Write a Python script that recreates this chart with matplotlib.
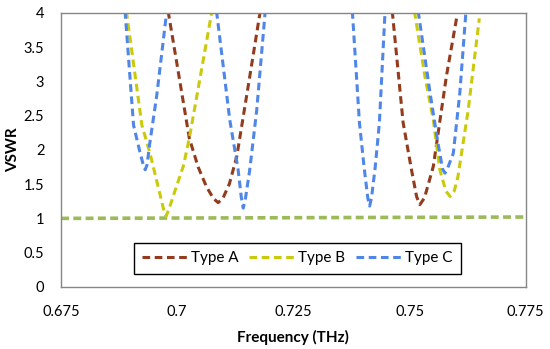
import matplotlib
matplotlib.use("Agg")
import matplotlib.pyplot as plt

plt.rcParams['font.family'] = ['Lato', 'DejaVu Sans']

## donnees (VSWR > 4 : hors cadre)
freq_a = [0.6960, 0.6981, 0.7000, 0.7026, 0.7045, 0.7063, 0.7078, 0.7088, 0.7098, 0.7112, 0.7128, 0.7156, 0.7178, 0.7200,
          0.7440, 0.7463, 0.7486, 0.7504, 0.7515, 0.7522, 0.7532, 0.7551, 0.7579, 0.7601]
vswr_a = [4.80, 4.00, 3.23, 2.17, 1.75, 1.46, 1.29, 1.23, 1.29, 1.50, 1.90, 3.07, 4.00, 4.90,
          5.00, 4.00, 2.40, 1.71, 1.32, 1.20, 1.30, 1.76, 3.07, 3.92]

freq_b = [0.6880, 0.6891, 0.6924, 0.6941, 0.6959, 0.6970, 0.6976, 0.6983, 0.6995, 0.7013, 0.7026, 0.7074, 0.7090,
          0.7500, 0.7511, 0.7533, 0.7551, 0.7565, 0.7578, 0.7587, 0.7596, 0.7604, 0.7626, 0.7650]
vswr_b = [4.55, 4.00, 2.36, 1.96, 1.46, 1.15, 1.03, 1.15, 1.40, 1.76, 2.17, 4.00, 4.60,
          4.50, 4.00, 3.07, 2.44, 1.71, 1.40, 1.32, 1.40, 1.61, 2.58, 3.92]

freq_c = [0.6880, 0.6888, 0.6906, 0.6920, 0.6927, 0.6931, 0.6935, 0.6941, 0.6956, 0.6977, 0.6990,
          0.7075, 0.7085, 0.7113, 0.7131, 0.7138, 0.7142, 0.7147, 0.7156, 0.7171, 0.7189, 0.7200,
          0.7370, 0.7377, 0.7392, 0.7402, 0.7410, 0.7414, 0.7418, 0.7426, 0.7435, 0.7447, 0.7460,
          0.7505, 0.7519, 0.7544, 0.7561, 0.7571, 0.7576, 0.7581, 0.7594, 0.7608, 0.7621, 0.7630]
vswr_c = [4.40, 4.00, 2.36, 1.96, 1.78, 1.71, 1.78, 2.10, 2.80, 4.00, 4.60,
          4.40, 4.00, 2.44, 1.71, 1.30, 1.15, 1.30, 1.71, 2.58, 4.00, 4.60,
          4.40, 4.00, 2.40, 1.75, 1.30, 1.18, 1.30, 1.75, 2.40, 4.00, 4.60,
          4.60, 4.00, 2.83, 2.10, 1.72, 1.66, 1.72, 1.95, 2.83, 4.00, 4.60]

freq_ref = [0.675, 0.775]
vswr_ref = [1.0, 1.02]

xticks = [0.675, 0.7, 0.725, 0.75, 0.775]
xlabels = ['0.675', '0.7', '0.725', '0.75', '0.775']
yticks = [0, 0.5, 1, 1.5, 2, 2.5, 3, 3.5, 4]
ylabels = ['0', '0.5', '1', '1.5', '2', '2.5', '3', '3.5', '4']

fig = plt.figure(figsize=(5.5, 3.49), dpi=100)
ax = fig.add_axes([0.111, 0.178, 0.845, 0.785])

ax.plot(freq_ref, vswr_ref, color='#9BBB59', lw=2.6, dashes=(2.2, 1.2), solid_capstyle='butt')
ax.plot(freq_a, vswr_a, color='#943B1E', lw=2.2, dashes=(2.5, 1.5), label='Type A')
ax.plot(freq_b, vswr_b, color='#CACA0C', lw=2.2, dashes=(2.5, 1.5), label='Type B')
ax.plot(freq_c, vswr_c, color='#4F86E8', lw=2.2, dashes=(2.5, 1.5), label='Type C')

ax.set_xlim(0.675, 0.775)
ax.set_ylim(0, 4)
ax.set_xticks(xticks)
ax.set_xticklabels(xlabels)
ax.set_yticks(yticks)
ax.set_yticklabels(ylabels)
ax.tick_params(axis='both', length=0, labelsize=10.5)
ax.tick_params(axis='x', pad=13)
ax.tick_params(axis='y', pad=12)
for s in ax.spines.values():
        s.set_color('#868686')
        s.set_linewidth(1.0)

ax.set_xlabel('Frequency (THz)', fontsize=11, fontweight='bold', labelpad=8)
ax.set_ylabel('VSWR', fontsize=11, fontweight='bold', labelpad=3)

leg = ax.legend(loc='center', bbox_to_anchor=(0.508, 0.104), ncol=3, fontsize=11,
                handlelength=3.0, handletextpad=0.2, columnspacing=0.7,
                fancybox=False, edgecolor='black', framealpha=1, borderpad=0.55)
leg.get_frame().set_linewidth(1.0)

fig.savefig('out.png', dpi=100)
